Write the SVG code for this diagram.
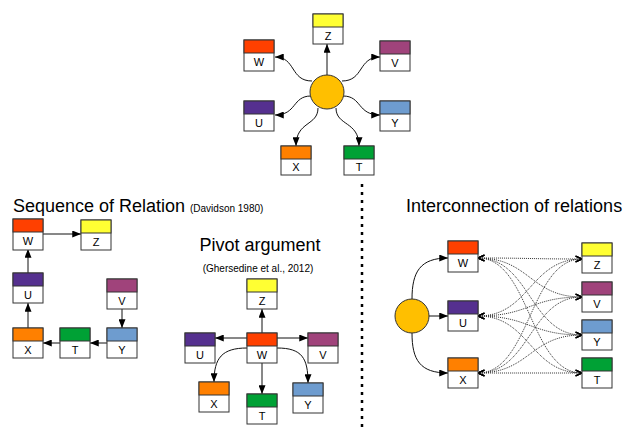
<svg xmlns="http://www.w3.org/2000/svg" width="623" height="429" viewBox="0 0 623 429">
<style>
.bx{fill:#fff;stroke:#333;stroke-width:1}
.lb{font-family:"Liberation Sans",Arial,sans-serif;font-size:11px;fill:#000;text-anchor:middle}
.tt{font-family:"Liberation Sans",Arial,sans-serif;font-size:18px;fill:#000}
.st{font-family:"Liberation Sans",Arial,sans-serif;font-size:10px;fill:#000}
.c{fill:none;stroke:#111;stroke-width:1;marker-end:url(#a)}
.d{fill:none;stroke:#333;stroke-width:1;stroke-dasharray:1,1;marker-start:url(#o);marker-end:url(#o)}
.ci{fill:#ffbf00;stroke:#333;stroke-width:1}
.W{fill:#ff4000}.Z{fill:#ffff33}.V{fill:#a0437b}.U{fill:#55308f}.Y{fill:#6e9ccf}.X{fill:#ff8000}.T{fill:#00a135}
</style>
<defs>
<marker id="a" viewBox="0 0 10 8" refX="10" refY="4" markerWidth="9" markerHeight="7" markerUnits="userSpaceOnUse" orient="auto"><path d="M0,0 L10,4 L0,8 z" fill="#000"/></marker>
<marker id="o" viewBox="0 0 10 10" refX="9" refY="5" markerWidth="8" markerHeight="8" markerUnits="userSpaceOnUse" orient="auto-start-reverse"><path d="M1,1.5 L9,5 L1,8.5" fill="none" stroke="#000" stroke-width="1.6"/></marker>
</defs>

<!-- titles -->
<text class="tt" x="13" y="212">Sequence of Relation</text>
<text class="st" x="190" y="212">(Davidson 1980)</text>
<text class="tt" x="260" y="251" text-anchor="middle">Pivot argument</text>
<text class="st" x="258" y="272" text-anchor="middle">(Ghersedine et al., 2012)</text>
<text class="tt" x="406" y="212">Interconnection of relations</text>

<line x1="362" y1="184" x2="362" y2="429" stroke="#000" stroke-width="2.5" stroke-dasharray="3,5"/>

<!-- connectors -->
<g id="connectors">
<!-- top -->
<path class="c" d="M327,75 L327,44"/>
<path class="c" d="M312,81 C290,81 296,57 275,57"/>
<path class="c" d="M342,81 C364,81 358,57 380,57"/>
<path class="c" d="M311,96 C292,96 297,115 275,115"/>
<path class="c" d="M343,96 C362,96 357,115 380,115"/>
<path class="c" d="M318,108 C318,126 296,121 296,146"/>
<path class="c" d="M336,108 C336,126 359,121 359,146"/>
<!-- sequence -->
<path class="c" d="M43,234 L81,234"/>
<path class="c" d="M28,273 L28,249"/>
<path class="c" d="M28,328 L28,303"/>
<path class="c" d="M122,309 L122,328"/>
<path class="c" d="M107,343 L90,343"/>
<path class="c" d="M60,343 L43,343"/>
<!-- pivot -->
<path class="c" d="M262,333 L262,309"/>
<path class="c" d="M247,338 L215,338"/>
<path class="c" d="M277,338 L308,338"/>
<path class="c" d="M262,363 L262,394"/>
<path class="c" d="M247,348 C222,348 214,358 214,382"/>
<path class="c" d="M277,348 C302,348 308,358 308,383"/>
<!-- interconnection -->
<path class="c" d="M429,316 L448,316"/>
<path class="c" d="M412,299 C412,272 420,258 448,258"/>
<path class="c" d="M412,333 C412,360 420,373 448,373"/>
<path class="d" d="M478,258 C530,258 530,259 582,259"/>
<path class="d" d="M478,258 C530,258 530,297 582,297"/>
<path class="d" d="M478,258 C530,258 530,335 582,335"/>
<path class="d" d="M478,258 C530,258 530,373 582,373"/>
<path class="d" d="M478,316 C530,316 530,259 582,259"/>
<path class="d" d="M478,316 C530,316 530,297 582,297"/>
<path class="d" d="M478,316 C530,316 530,335 582,335"/>
<path class="d" d="M478,316 C530,316 530,373 582,373"/>
<path class="d" d="M478,373 C530,373 530,259 582,259"/>
<path class="d" d="M478,373 C530,373 530,297 582,297"/>
<path class="d" d="M478,373 C530,373 530,335 582,335"/>
<path class="d" d="M478,373 C530,373 530,373 582,373"/>
</g>

<!-- top cluster -->
<g id="top-center"><circle class="ci" cx="327" cy="92" r="17"/></g>
<g id="top-Z"><rect class="bx" x="313" y="14" width="30" height="30"/><rect class="bx Z" x="313" y="14" width="30" height="13"/><text class="lb" x="328" y="40">Z</text></g>
<g id="top-W"><rect class="bx" x="244" y="40" width="30" height="31"/><rect class="bx W" x="244" y="40" width="30" height="13"/><text class="lb" x="259" y="66">W</text></g>
<g id="top-V"><rect class="bx" x="380" y="41" width="30" height="30"/><rect class="bx V" x="380" y="41" width="30" height="13"/><text class="lb" x="395" y="67">V</text></g>
<g id="top-U"><rect class="bx" x="244" y="101" width="30" height="30"/><rect class="bx U" x="244" y="101" width="30" height="13"/><text class="lb" x="259" y="127">U</text></g>
<g id="top-Y"><rect class="bx" x="380" y="101" width="30" height="30"/><rect class="bx Y" x="380" y="101" width="30" height="13"/><text class="lb" x="395" y="127">Y</text></g>
<g id="top-X"><rect class="bx" x="281" y="146" width="30" height="29"/><rect class="bx X" x="281" y="146" width="30" height="13"/><text class="lb" x="296" y="171">X</text></g>
<g id="top-T"><rect class="bx" x="344" y="146" width="30" height="29"/><rect class="bx T" x="344" y="146" width="30" height="13"/><text class="lb" x="359" y="171">T</text></g>

<!-- sequence -->
<g id="seq-W"><rect class="bx" x="13" y="219" width="30" height="31"/><rect class="bx W" x="13" y="219" width="30" height="13"/><text class="lb" x="28" y="245">W</text></g>
<g id="seq-Z"><rect class="bx" x="81" y="220" width="30" height="30"/><rect class="bx Z" x="81" y="220" width="30" height="13"/><text class="lb" x="96" y="246">Z</text></g>
<g id="seq-U"><rect class="bx" x="13" y="273" width="30" height="30"/><rect class="bx U" x="13" y="273" width="30" height="13"/><text class="lb" x="28" y="299">U</text></g>
<g id="seq-X"><rect class="bx" x="13" y="328" width="30" height="30"/><rect class="bx X" x="13" y="328" width="30" height="13"/><text class="lb" x="28" y="354">X</text></g>
<g id="seq-T"><rect class="bx" x="60" y="328" width="30" height="30"/><rect class="bx T" x="60" y="328" width="30" height="13"/><text class="lb" x="75" y="354">T</text></g>
<g id="seq-Y"><rect class="bx" x="107" y="328" width="30" height="30"/><rect class="bx Y" x="107" y="328" width="30" height="13"/><text class="lb" x="122" y="354">Y</text></g>
<g id="seq-V"><rect class="bx" x="107" y="279" width="30" height="30"/><rect class="bx V" x="107" y="279" width="30" height="13"/><text class="lb" x="122" y="305">V</text></g>

<!-- pivot -->
<g id="piv-Z"><rect class="bx" x="247" y="279" width="30" height="30"/><rect class="bx Z" x="247" y="279" width="30" height="13"/><text class="lb" x="262" y="305">Z</text></g>
<g id="piv-W"><rect class="bx" x="247" y="333" width="30" height="30"/><rect class="bx W" x="247" y="333" width="30" height="13"/><text class="lb" x="262" y="359">W</text></g>
<g id="piv-U"><rect class="bx" x="185" y="333" width="30" height="30"/><rect class="bx U" x="185" y="333" width="30" height="13"/><text class="lb" x="200" y="359">U</text></g>
<g id="piv-V"><rect class="bx" x="308" y="333" width="30" height="30"/><rect class="bx V" x="308" y="333" width="30" height="13"/><text class="lb" x="323" y="359">V</text></g>
<g id="piv-X"><rect class="bx" x="199" y="382" width="30" height="30"/><rect class="bx X" x="199" y="382" width="30" height="13"/><text class="lb" x="214" y="408">X</text></g>
<g id="piv-T"><rect class="bx" x="247" y="394" width="30" height="30"/><rect class="bx T" x="247" y="394" width="30" height="13"/><text class="lb" x="262" y="420">T</text></g>
<g id="piv-Y"><rect class="bx" x="293" y="383" width="30" height="30"/><rect class="bx Y" x="293" y="383" width="30" height="13"/><text class="lb" x="308" y="409">Y</text></g>

<!-- interconnection -->
<g id="int-center"><circle class="ci" cx="412" cy="316" r="17"/></g>
<g id="int-W"><rect class="bx" x="448" y="241" width="30" height="31"/><rect class="bx W" x="448" y="241" width="30" height="13"/><text class="lb" x="463" y="267">W</text></g>
<g id="int-U"><rect class="bx" x="448" y="301" width="30" height="30"/><rect class="bx U" x="448" y="301" width="30" height="13"/><text class="lb" x="463" y="327">U</text></g>
<g id="int-X"><rect class="bx" x="448" y="358" width="30" height="30"/><rect class="bx X" x="448" y="358" width="30" height="13"/><text class="lb" x="463" y="384">X</text></g>
<g id="int-Z"><rect class="bx" x="582" y="243" width="30" height="30"/><rect class="bx Z" x="582" y="243" width="30" height="13"/><text class="lb" x="597" y="269">Z</text></g>
<g id="int-V"><rect class="bx" x="582" y="282" width="30" height="30"/><rect class="bx V" x="582" y="282" width="30" height="13"/><text class="lb" x="597" y="308">V</text></g>
<g id="int-Y"><rect class="bx" x="582" y="320" width="30" height="30"/><rect class="bx Y" x="582" y="320" width="30" height="13"/><text class="lb" x="597" y="346">Y</text></g>
<g id="int-T"><rect class="bx" x="582" y="358" width="30" height="30"/><rect class="bx T" x="582" y="358" width="30" height="13"/><text class="lb" x="597" y="384">T</text></g>
</svg>
